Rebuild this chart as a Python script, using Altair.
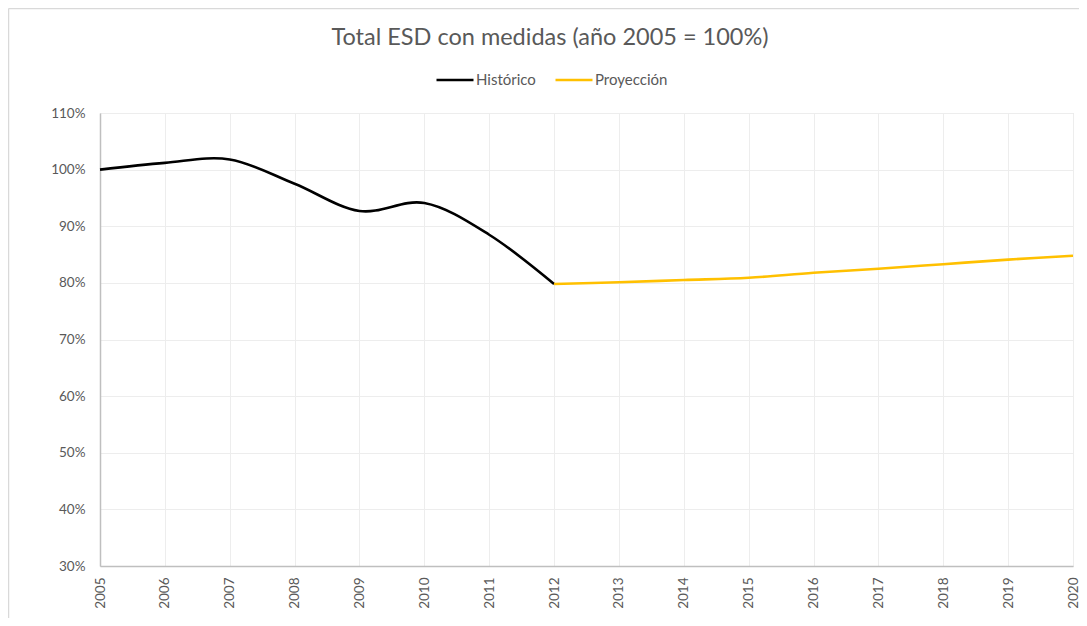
import altair as alt
import pandas as pd

hist_years = [2005, 2006, 2007, 2008, 2009, 2010, 2011, 2012]
hist_values = [1.000, 1.012, 1.018, 0.975, 0.927, 0.941, 0.885, 0.798]

proj_years = [2012, 2013, 2014, 2015, 2016, 2017, 2018, 2019, 2020]
proj_values = [0.798, 0.801, 0.805, 0.809, 0.818, 0.825, 0.833, 0.841, 0.848]

series_names = ["Histórico", "Proyección"]
series_colors = ["#000000", "#FFC000"]
title_text = "Total ESD con medidas (año 2005 = 100%)"

df = pd.concat([
    pd.DataFrame({"year": hist_years, "value": hist_values, "serie": series_names[0]}),
    pd.DataFrame({"year": proj_years, "value": proj_values, "serie": series_names[1]}),
])

FONT = "Lato"
GREY = "#595959"

lines = alt.Chart(df).mark_line(strokeWidth=2.6, interpolate="cardinal").encode(
    x=alt.X("year:Q",
            scale=alt.Scale(domain=[2005, 2020], nice=False, zero=False),
            axis=alt.Axis(values=list(range(2005, 2021)), format="d", title=None,
                          labelAngle=270, labelFontSize=13.5, labelColor=GREY,
                          labelFont=FONT, labelPadding=11, ticks=False,
                          domainColor="#bfbfbf", domainWidth=1.5,
                          gridColor="#ededed", gridWidth=1)),
    y=alt.Y("value:Q",
            scale=alt.Scale(domain=[0.3, 1.1], nice=False, zero=False),
            axis=alt.Axis(values=[0.3, 0.4, 0.5, 0.6, 0.7, 0.8, 0.9, 1.0, 1.1],
                          format=".0%", title=None, labelFontSize=13.5,
                          labelColor=GREY, labelFont=FONT, labelPadding=15,
                          ticks=False, domainColor="#bfbfbf", domainWidth=1.5,
                          gridColor="#ededed", gridWidth=1)),
    color=alt.Color("serie:N",
                    scale=alt.Scale(domain=series_names, range=series_colors),
                    legend=alt.Legend(title=None, orient="none", direction="horizontal",
                                      legendX=335, legendY=-53,
                                      symbolType="stroke", symbolSize=1369,
                                      symbolStrokeWidth=2.6, labelFontSize=15,
                                      labelFont=FONT, labelColor=GREY,
                                      labelOffset=1, columnPadding=14)),
    detail="serie:N",
)

title = alt.Chart(pd.DataFrame({"t": [title_text]})).mark_text(
    font=FONT, fontSize=23.5, color=GREY, align="center", baseline="middle"
).encode(text="t:N", x=alt.value(450), y=alt.value(-75))

frame_left = alt.Chart(pd.DataFrame({"k": [0]})).mark_rule(
    stroke="#d9d9d9", strokeWidth=1.5
).encode(x=alt.value(-91.5), y=alt.value(-104.5), y2=alt.value(540))

frame_top = alt.Chart(pd.DataFrame({"k": [0]})).mark_rule(
    stroke="#d9d9d9", strokeWidth=1.5
).encode(x=alt.value(-91.5), x2=alt.value(1000), y=alt.value(-104.5))

chart = alt.layer(frame_left, frame_top, title, lines).properties(
    width=973,
    height=453,
    autosize=alt.AutoSizeParams(type="none"),
    padding={"left": 92, "top": 105, "right": 6, "bottom": 52},
).configure_view(stroke=None).configure(background="white")

chart.save("out.html", embed_options={"renderer": "svg", "actions": False})
